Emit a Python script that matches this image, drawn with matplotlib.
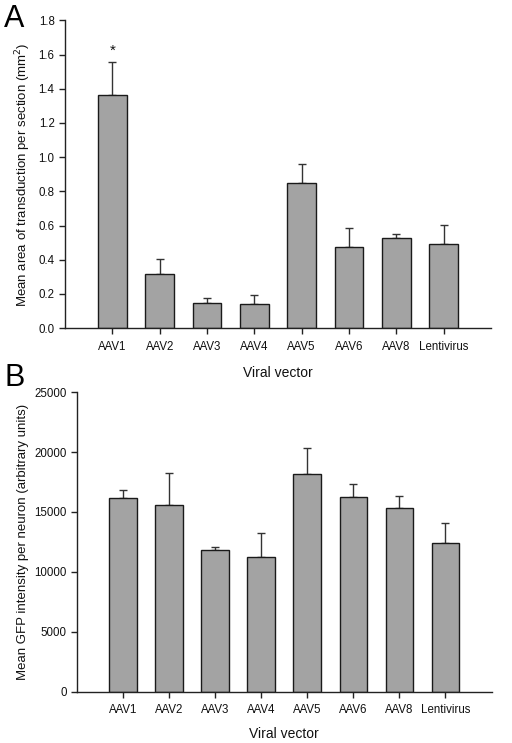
import matplotlib
matplotlib.use('Agg')
import matplotlib.pyplot as plt
import numpy as np

plt.rcParams['font.family'] = ['Liberation Sans', 'DejaVu Sans']

vectors = ['AAV1', 'AAV2', 'AAV3', 'AAV4', 'AAV5', 'AAV6', 'AAV8', 'Lentivirus']

# Panel A: mean area of transduction per section (mm^2)
area_mean = [1.365, 0.316, 0.146, 0.142, 0.846, 0.476, 0.528, 0.491]
area_sem = [0.189, 0.089, 0.031, 0.053, 0.113, 0.111, 0.023, 0.111]

# Panel B: mean GFP intensity per neuron (arbitrary units)
gfp_mean = [16150, 15590, 11830, 11270, 18210, 16235, 15315, 12390]
gfp_sem = [690, 2650, 275, 1980, 2150, 1115, 1005, 1720]

bar_color = '#a3a3a3'
edge_color = '#1a1a1a'
err_color = '#333333'


def draw_panel(ax, means, sems, ylim, yticks, yfmt, ylabel, xlabelpad):
    x = np.arange(1, len(vectors) + 1)
    ax.bar(x, means, width=0.6, color=bar_color, edgecolor=edge_color, linewidth=1.0, zorder=2)
    ax.errorbar(x, means, yerr=[np.zeros(len(means)), sems], fmt='none',
                ecolor=err_color, elinewidth=1.0, capsize=3.2, capthick=1.0, zorder=1)
    ax.set_xlim(0, 9)
    ax.set_ylim(*ylim)
    ax.set_yticks(yticks)
    ax.set_yticklabels([yfmt(v) for v in yticks])
    ax.set_xticks(x)
    ax.set_xticklabels(vectors)
    ax.spines['top'].set_visible(False)
    ax.spines['right'].set_visible(False)
    for s in ('left', 'bottom'):
        ax.spines[s].set_color('#222222')
        ax.spines[s].set_linewidth(1.0)
    ax.tick_params(axis='both', direction='out', length=4, width=1.0, color='#222222',
                   labelsize=8.3, labelcolor='#111111')
    ax.tick_params(axis='x', pad=5)
    ax.set_ylabel(ylabel, fontsize=9.5, color='#111111')
    ax.set_xlabel('Viral vector', fontsize=10, color='#111111', labelpad=xlabelpad)


fig = plt.figure(figsize=(5.12, 7.43), dpi=100)

axA = fig.add_axes([0.127, 0.5585, 0.832, 0.414])
draw_panel(axA, area_mean, area_sem, (0, 1.8), np.arange(0, 1.81, 0.2),
           lambda v: f'{v:.1f}', 'Mean area of transduction per section (mm$^2$)', 10)
axA.text(1, area_mean[0] + area_sem[0] + 0.03, '*', ha='center', va='bottom',
         fontsize=11, color='#111111')

axB = fig.add_axes([0.1504, 0.0693, 0.8096, 0.4027])
draw_panel(axB, gfp_mean, gfp_sem, (0, 25000), np.arange(0, 25001, 5000),
           lambda v: f'{int(v)}', 'Mean GFP intensity per neuron (arbitrary units)', 8)

fig.text(0.008, 0.995, 'A', fontsize=22, va='top', ha='left')
fig.text(0.008, 0.512, 'B', fontsize=22, va='top', ha='left')

fig.savefig('out.png', dpi=100, facecolor='white')
